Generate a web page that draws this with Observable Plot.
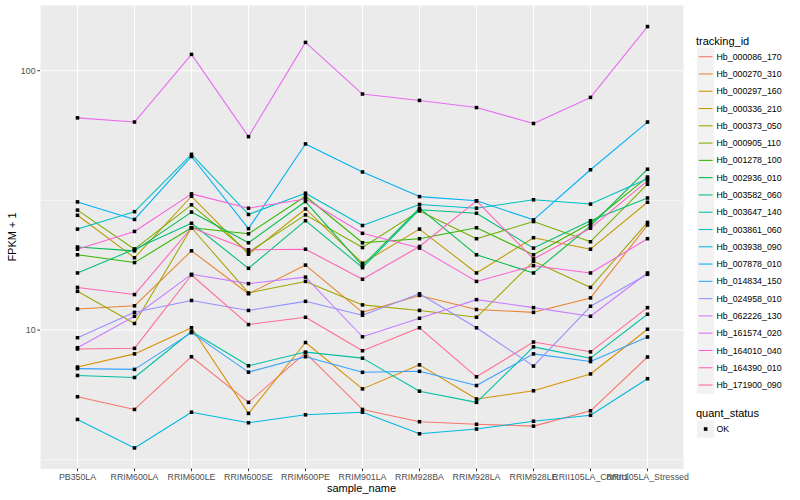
<!DOCTYPE html>
<html>
<head>
<meta charset="utf-8">
<script src="https://cdn.jsdelivr.net/npm/d3@7"></script>
<script src="https://cdn.jsdelivr.net/npm/@observablehq/plot@0.6"></script>
<style>
  body { margin: 0; background: #fff; font-family: "Liberation Sans", Arial, Helvetica, sans-serif; }
  #wrap { position: relative; width: 800px; height: 500px; overflow: hidden; }
  #chart svg { display: block; }
  .t { position: absolute; white-space: nowrap; color: #000; }
  .title11 { font-size: 11px; line-height: 11px; }
  #legend { position: absolute; left: 0; top: 0; }
</style>
</head>
<body>
<div id="wrap">
  <div id="chart"></div>
</div>
<script>
// ---------- data ----------
const categories = ["PB350LA", "RRIM600LA", "RRIM600LE", "RRIM600SE", "RRIM600PE", "RRIM901LA",
  "RRIM928BA", "RRIM928LA", "RRIM928LE", "RRII105LA_Control", "RRII105LA_Stressed"];

const trackingIds = ["Hb_000086_170", "Hb_000270_310", "Hb_000297_160", "Hb_000336_210", "Hb_000373_050",
  "Hb_000905_110", "Hb_001278_100", "Hb_002936_010", "Hb_003582_060", "Hb_003647_140",
  "Hb_003861_060", "Hb_003938_090", "Hb_007878_010", "Hb_014834_150", "Hb_024958_010",
  "Hb_062226_130", "Hb_161574_020", "Hb_164010_040", "Hb_164390_010", "Hb_171900_090"];

const seriesColors = ["#F8766D", "#EA8331", "#D89000", "#C09B00", "#A3A500", "#7CAE00", "#39B600", "#00BB4E",
  "#00BF7D", "#00C1A3", "#00BFC4", "#00BAE0", "#00B0F6", "#35A2FF", "#9590FF", "#C77CFF",
  "#E76BF3", "#FA62DB", "#FF62BC", "#FF6C91"];

// FPKM + 1 per sample (same order as categories)
const hb_000086_170 = [5.53, 4.94, 7.89, 5.26, 8.17, 4.94, 4.43, 4.33, 4.26, 4.88, 7.87];
const hb_000270_310 = [12.05, 12.4, 20.2, 13.8, 17.8, 11.7, 13.6, 12.0, 11.7, 13.3, 25.4];
const hb_000297_160 = [7.2, 8.09, 10.2, 4.77, 8.95, 5.93, 7.34, 5.42, 5.83, 6.77, 10.07];
const hb_000336_210 = [27.7, 19.0, 32.8, 19.6, 29.3, 18.1, 24.5, 16.6, 22.7, 20.5, 31.1];
const hb_000373_050 = [14.1, 10.6, 24.8, 13.9, 15.4, 12.5, 11.9, 11.2, 18.4, 14.6, 26.0];
const hb_000905_110 = [29.0, 20.5, 30.4, 19.95, 27.8, 20.8, 28.8, 22.5, 26.2, 21.9, 36.5];
const hb_001278_100 = [19.5, 18.2, 24.8, 23.5, 32.8, 21.7, 22.5, 24.8, 19.5, 25.8, 38.9];
const hb_002936_010 = [20.9, 20.2, 28.5, 21.7, 31.3, 17.7, 29.5, 19.5, 16.6, 25.2, 41.7];
const hb_003582_060 = [16.6, 20.5, 25.8, 17.3, 26.4, 17.4, 29.1, 28.2, 20.7, 26.4, 32.3];
const hb_003647_140 = [6.68, 6.56, 9.87, 7.28, 8.22, 7.79, 5.81, 5.26, 8.61, 7.79, 11.5];
const hb_003861_060 = [24.5, 28.6, 47.6, 27.9, 33.7, 25.3, 30.5, 29.5, 31.8, 30.6, 38.3];
const hb_003938_090 = [4.52, 3.51, 4.82, 4.39, 4.71, 4.82, 3.98, 4.15, 4.45, 4.69, 6.49];
const hb_007878_010 = [31.2, 26.7, 46.7, 24.6, 52.2, 40.7, 32.7, 31.5, 26.6, 41.5, 63.4];
const hb_014834_150 = [7.1, 7.05, 9.77, 6.88, 7.89, 6.87, 6.93, 6.11, 8.09, 7.56, 9.4];
const hb_024958_010 = [9.34, 11.7, 13.0, 11.9, 12.9, 11.4, 13.8, 10.2, 7.26, 12.35, 16.4];
const hb_062226_130 = [8.55, 11.3, 16.4, 15.1, 16.0, 9.42, 11.1, 13.1, 12.2, 11.3, 16.6];
const hb_161574_020 = [65.8, 63.4, 115.6, 55.7, 128.6, 81.3, 76.8, 72.1, 62.6, 78.9, 148];
const hb_164010_040 = [20.5, 24.0, 33.5, 29.5, 32.0, 23.6, 20.7, 15.4, 17.7, 16.6, 22.5];
const hb_164390_010 = [14.6, 13.7, 24.8, 20.4, 20.5, 15.7, 21.0, 31.5, 18.8, 24.7, 37.6];
const hb_171900_090 = [8.45, 8.5, 16.3, 10.5, 11.2, 8.32, 10.2, 6.6, 8.99, 8.24, 12.2];

const seriesValues = [hb_000086_170, hb_000270_310, hb_000297_160, hb_000336_210, hb_000373_050,
  hb_000905_110, hb_001278_100, hb_002936_010, hb_003582_060, hb_003647_140,
  hb_003861_060, hb_003938_090, hb_007878_010, hb_014834_150, hb_024958_010,
  hb_062226_130, hb_161574_020, hb_164010_040, hb_164390_010, hb_171900_090];

const statusLevels = ["OK"];
const majorTicks = [10, 100];
const minorTicks = [Math.pow(10, 0.5), Math.pow(10, 1.5)];

// ---------- build table ----------
const rows = [];
seriesValues.forEach((vals, i) => {
  vals.forEach((v, j) => rows.push({id: trackingIds[i], sample: categories[j], value: v, status: statusLevels[0]}));
});

// ggplot-like 5% expansion in log space
const logs = rows.map(d => Math.log10(d.value));
const lo = d3.min(logs), hi = d3.max(logs), pad = (hi - lo) * 0.05;
const yDomain = [Math.pow(10, lo - pad), Math.pow(10, hi + pad)];

const font = "Liberation Sans, Arial, Helvetica, sans-serif";

const chart = Plot.plot({
  width: 800,
  height: 500,
  marginLeft: 40,
  marginRight: 117,
  marginTop: 5,
  marginBottom: 31.5,
  style: {fontFamily: font, fontSize: "8.8px", background: "white", overflow: "visible"},
  x: {type: "point", domain: categories, padding: 0.6, axis: null},
  y: {type: "log", domain: yDomain, axis: null},
  color: {domain: trackingIds, range: seriesColors},
  marks: [
    Plot.frame({fill: "#EBEBEB", stroke: null}),
    Plot.ruleY(minorTicks, {stroke: "white", strokeWidth: 0.55}),
    Plot.ruleY(majorTicks, {stroke: "white", strokeWidth: 1.07}),
    Plot.ruleX(categories, {stroke: "white", strokeWidth: 1.07}),
    Plot.axisX({label: null, tickSize: 2.75, tickPadding: 2.2, stroke: "#333333", fill: "#4D4D4D", fontSize: 8.8}),
    Plot.axisY({ticks: majorTicks, tickFormat: d => String(d), label: null, tickSize: 2.75, tickPadding: 2.2,
      stroke: "#333333", fill: "#4D4D4D", fontSize: 8.8}),
    Plot.line(rows, {x: "sample", y: "value", z: "id", stroke: "id", strokeWidth: 1.07}),
    Plot.dot(rows, {x: "sample", y: "value", symbol: "square", fill: "black", stroke: null, r: 2})
  ]
});
document.getElementById("chart").appendChild(chart);

// ---------- titles ----------
const wrap = document.getElementById("wrap");
function addText(txt, cls, css) {
  const el = document.createElement("div");
  el.className = "t " + cls;
  el.textContent = txt;
  Object.assign(el.style, css);
  wrap.appendChild(el);
  return el;
}
addText("sample_name", "title11", {left: "361.5px", top: "482.5px", transform: "translateX(-50%)"});
addText("FPKM + 1", "title11", {left: "12px", top: "236.5px", transform: "translate(-50%,-50%) rotate(-90deg)"});

// ---------- legend (SVG) ----------
const ns = "http://www.w3.org/2000/svg";
const lg = document.createElementNS(ns, "svg");
lg.setAttribute("id", "legend");
lg.setAttribute("width", 800);
lg.setAttribute("height", 500);
lg.style.fontFamily = font;
wrap.appendChild(lg);
function el(tag, attrs, text) {
  const e = document.createElementNS(ns, tag);
  for (const k in attrs) e.setAttribute(k, attrs[k]);
  if (text != null) e.textContent = text;
  lg.appendChild(e);
  return e;
}
const keyX = 697, keyW = 17.28, labelX = 716.5;
el("text", {x: 696, y: 44.5, "font-size": 11, fill: "#000"}, "tracking_id");
trackingIds.forEach((id, i) => {
  const cy = 56.7 + i * 17.28;
  el("rect", {x: keyX, y: cy - keyW / 2, width: keyW, height: keyW, fill: "#F2F2F2"});
  el("line", {x1: keyX + 1.7, x2: keyX + keyW - 1.7, y1: cy, y2: cy, stroke: seriesColors[i], "stroke-width": 1.07});
  el("text", {x: labelX, y: cy, dy: "0.35em", "font-size": 8.8, fill: "#000"}, id);
});
el("text", {x: 696, y: 416.5, "font-size": 11, fill: "#000"}, "quant_status");
statusLevels.forEach((s, i) => {
  const cy = 429 + i * 17.28;
  el("rect", {x: keyX, y: cy - keyW / 2, width: keyW, height: keyW, fill: "#F2F2F2"});
  el("rect", {x: keyX + keyW / 2 - 1.8, y: cy - 1.8, width: 3.6, height: 3.6, fill: "#000"});
  el("text", {x: labelX, y: cy, dy: "0.35em", "font-size": 8.8, fill: "#000"}, s);
});
</script>
</body>
</html>
